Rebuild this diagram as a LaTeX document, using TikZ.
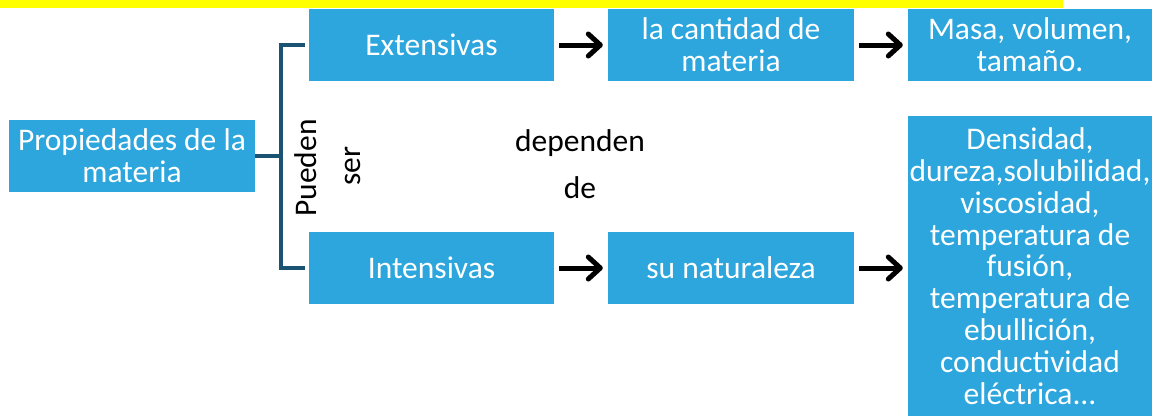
\documentclass[tikz,border=0pt]{standalone}
\usepackage{fontspec}
\setmainfont{Carlito}
\usetikzlibrary{arrows.meta}
\definecolor{boxblue}{RGB}{44,166,221}
\definecolor{brk}{RGB}{26,84,114}
\definecolor{hl}{RGB}{255,255,0}
\begin{document}
\begin{tikzpicture}[x=1pt,y=-1pt,
  bx/.style={fill=boxblue, text=white, inner sep=0pt, align=center,
    font=\fontsize{31.5}{31.8}\selectfont},
  lbl/.style={text=black, inner sep=0pt, align=center,
    font=\fontsize{31.5}{31.8}\selectfont},
  arr/.style={-{Straight Barb[length=12pt,width=22pt,round]}, line width=5pt, black},
  brace/.style={brk, line width=3.5pt}]
\useasboundingbox (0,0) rectangle (1155,416);
\fill[hl] (0,0) rectangle (1063,8);
\node[bx, minimum width=246, minimum height=72] (prop) at (132,156) {Propiedades de la\\materia};
\node[bx, minimum width=245, minimum height=72] (ext) at (431.5,45) {Extensivas};
\node[bx, minimum width=246, minimum height=72] (cant) at (731,45) {la cantidad de\\materia};
\node[bx, minimum width=244, minimum height=72] (masa) at (1030,45) {Masa, volumen,\\tamaño.};
\node[bx, minimum width=245, minimum height=72] (int) at (431.5,268) {Intensivas};
\node[bx, minimum width=246, minimum height=72] (nat) at (731,268) {su naturaleza};
\node[bx, minimum width=244, minimum height=300] (big) at (1030,266) {Densidad,\\dureza,solubilidad,\\viscosidad,\\temperatura de\\fusión,\\temperatura de\\ebullición,\\conductividad\\eléctrica...};
\coordinate (bm) at (281,156);
\coordinate (bt) at (281,45);
\coordinate (bb) at (281,268);
\draw[brace] (prop.east) -- (bm);
\draw[brace, line cap=rect] (bt) -- (bb);
\draw[brace] (bt) -- ([xshift=-4pt]ext.west);
\draw[brace] (bb) -- ([xshift=-4pt]int.west);
\node[lbl, rotate=90] (pueden) at (306,168) {Pueden};
\node[lbl, rotate=90] (ser) at (353,166) {ser};
\node[lbl] (dep) at (580,143) {dependen};
\node[lbl] (de) at (580,188) {de};
\draw[arr] ([xshift=5pt]ext.east) -- ([xshift=-5pt]cant.west);
\draw[arr] ([xshift=5pt]cant.east) -- ([xshift=-5pt]masa.west);
\draw[arr] ([xshift=5pt]int.east) -- ([xshift=-5pt]nat.west);
\draw[arr] ([xshift=5pt]nat.east) -- ([xshift=-5pt]nat.east -| big.west);
\end{tikzpicture}
\end{document}
